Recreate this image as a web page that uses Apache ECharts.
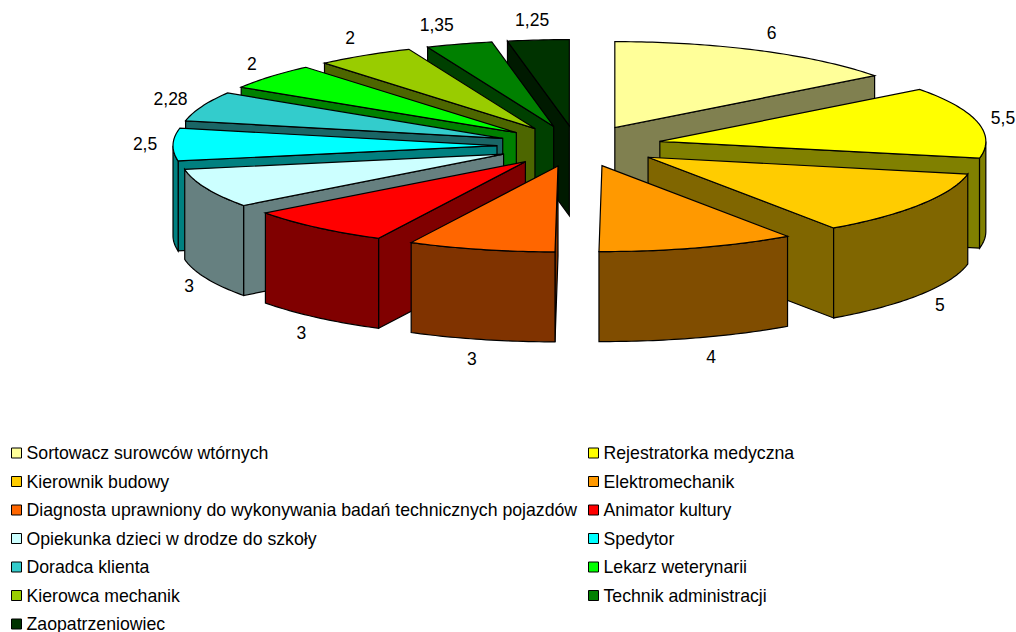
<!DOCTYPE html>
<html>
<head>
<meta charset="utf-8">
<style>
  html, body { margin: 0; padding: 0; background: #fff; }
  #chart { width: 1016px; height: 632px; }
</style>
<script src="https://cdn.jsdelivr.net/npm/echarts@6/dist/echarts.min.js"></script>
</head>
<body>
<div id="chart"></div>
<script>
const categories = [
  'Sortowacz surowców wtórnych', 'Rejestratorka medyczna', 'Kierownik budowy', 'Elektromechanik',
  'Diagnosta uprawniony do wykonywania badań technicznych pojazdów', 'Animator kultury',
  'Opiekunka dzieci w drodze do szkoły', 'Spedytor', 'Doradca klienta', 'Lekarz weterynarii',
  'Kierowca mechanik', 'Technik administracji', 'Zaopatrzeniowiec'
]
const values = [6, 5.5, 5, 4, 3, 3, 3, 2.5, 2.28, 2, 2, 1.35, 1.25]
const topColors = ['#FFFF99', '#FFFF00', '#FFCC00', '#FF9900', '#FF6600', '#FF0000', '#CCFFFF',
  '#00FFFF', '#33CCCC', '#00FF00', '#99CC00', '#008000', '#003300']
const sideColors = ['#808050', '#808000', '#806600', '#804D00', '#803300', '#800000', '#668080',
  '#008080', '#1A6666', '#008000', '#4D6600', '#004000', '#001A00']

// 饼图的投影参数（原图有透视，左半边略窄）
const cx = 577, cy = 146, ry = 86, depth = 90
const rxRight = 326, rxLeft = 324
const explodeRight = 85, explodeLeft = 80, explodeY = 20.5
// 标签的水平微调
const labelShift = [2, 4, 1, 7, -4, -1, 3, -6, -11, -2, -3, -16, -4]
const total = values.reduce((a, b) => a + b, 0)

function rim(ax, ay, angle, rx) {
  return [ax + rx * Math.sin(angle), ay - ry * Math.cos(angle)]
}

function down(p) {
  return [p[0], p[1] + depth]
}

function arcPoints(ax, ay, a0, a1, rx) {
  const pts = []
  const n = Math.max(2, Math.ceil((a1 - a0) * 60))
  for (let i = 0; i <= n; i++) pts.push(rim(ax, ay, a0 + (a1 - a0) * i / n, rx))
  return pts
}

function renderSlice(index) {
  return function (params, api) {
    const before = values.slice(0, index).reduce((a, b) => a + b, 0)
    const a0 = before / total * Math.PI * 2
    const a1 = (before + api.value(0)) / total * Math.PI * 2
    const mid = (a0 + a1) / 2
    const isLeft = mid > Math.PI
    const rx = isLeft ? rxLeft : rxRight
    const ax = cx + (isLeft ? explodeLeft : explodeRight) * Math.sin(mid)
    const ay = cy - explodeY * Math.cos(mid)
    const apex = [ax, ay]
    const side = { fill: sideColors[index], stroke: '#000', lineWidth: 1.2 }
    const children = []

    // 只画朝向观察者的侧面
    if (a1 < Math.PI) {
      const p = rim(ax, ay, a1, rx)
      children.push({ type: 'polygon', shape: { points: [apex, p, down(p), down(apex)] }, style: side })
    }
    if (a0 > Math.PI) {
      const p = rim(ax, ay, a0, rx)
      children.push({ type: 'polygon', shape: { points: [apex, p, down(p), down(apex)] }, style: side })
    }
    const w0 = Math.max(a0, Math.PI / 2)
    const w1 = Math.min(a1, Math.PI * 1.5)
    if (w1 > w0) {
      const arc = arcPoints(ax, ay, w0, w1, rx)
      children.push({
        type: 'polygon',
        shape: { points: arc.concat(arc.map(down).reverse()) },
        style: side
      })
    }
    children.push({
      type: 'polygon',
      shape: { points: [apex].concat(arcPoints(ax, ay, a0, a1, rx)) },
      style: { fill: topColors[index], stroke: '#000', lineWidth: 1.2 }
    })

    // 数据标签
    const edge = rim(ax, ay, mid, rx)
    const labelY = edge[1] - 20 * Math.cos(mid) + (Math.cos(mid) < -0.1 ? depth : 0)
    children.push({
      type: 'text',
      style: {
        x: edge[0] + 22 * Math.sin(mid) + labelShift[index],
        y: labelY,
        text: String(api.value(0)).replace('.', ','),
        fill: '#000',
        font: '17.5px "Liberation Sans", Arial, sans-serif',
        textAlign: 'center',
        textVerticalAlign: 'middle'
      },
      z2: 10
    })
    return { type: 'group', children: children }
  }
}

// 后面的扇区先画：右半边从上往下，左半边从上往下
const drawOrder = [0, 1, 2, 3, 12, 11, 10, 9, 8, 7, 6, 5, 4]

const seriesList = categories.map((name, i) => ({
  name: name,
  type: 'custom',
  coordinateSystem: 'none',
  silent: true,
  animation: false,
  z: 2 + drawOrder.indexOf(i),
  itemStyle: { color: topColors[i] },
  data: [[values[i]]],
  renderItem: renderSlice(i)
}))

function legendColumn(left, names) {
  return {
    orient: 'vertical',
    left: left,
    top: 444,
    height: 240, // 最后一行超出画布底部，不让图例换列
    padding: 0,
    itemWidth: 10,
    itemHeight: 10,
    itemGap: 10.5,
    icon: 'rect',
    selectedMode: false,
    itemStyle: { borderColor: '#000', borderWidth: 1 },
    textStyle: {
      color: '#000',
      fontSize: 17.7,
      lineHeight: 18,
      fontFamily: '"Liberation Sans", Arial, sans-serif'
    },
    data: names
  }
}

const chart = echarts.init(document.getElementById('chart'), null, { renderer: 'svg' })
chart.setOption({
  backgroundColor: '#fff',
  animation: false,
  legend: [
    legendColumn(11, categories.filter((_, i) => i % 2 === 0)),
    legendColumn(588, categories.filter((_, i) => i % 2 === 1))
  ],
  series: seriesList
})
</script>
</body>
</html>
